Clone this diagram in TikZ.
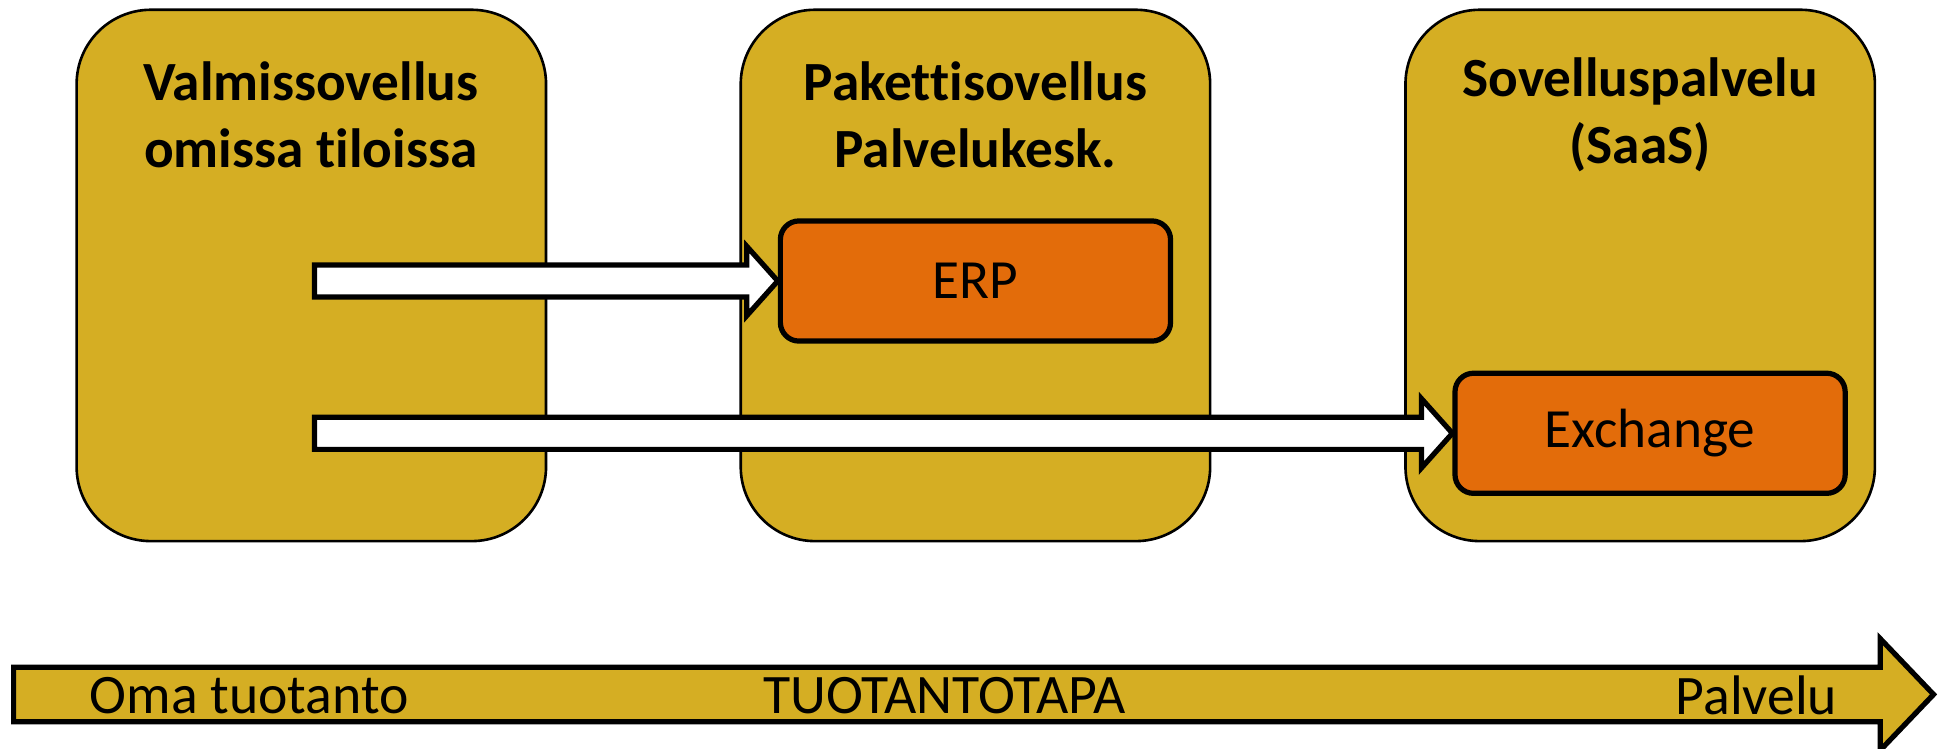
\documentclass[tikz,border=0pt]{standalone}
\usepackage{fontspec}
\setmainfont[Ligatures=NoCommon]{Carlito}
\usetikzlibrary{calc}
\definecolor{gold}{HTML}{D5AE23}
\definecolor{orng}{HTML}{E36C0A}
\tikzstyle{stage}=[rectangle,draw=black,line width=0.6pt,fill=gold,minimum width=3.79cm,minimum height=4.29cm,rounded corners=0.6cm,inner sep=0pt]
\tikzstyle{ttl}=[align=center,font=\bfseries\fontsize{12.7}{15.4}\selectfont]
\tikzstyle{app}=[rectangle,draw=black,line width=1.2pt,fill=orng,minimum width=3.15cm,minimum height=0.97cm,rounded corners=0.15cm,font=\fontsize{12.7}{15}\selectfont]
\tikzstyle{hollow}=[draw=black,fill=white,line width=1.2pt,line join=miter]
\tikzstyle{axis}=[draw=black,fill=gold,line width=1.2pt,line join=miter]
\tikzstyle{lbl}=[font=\fontsize{12.8}{15}\selectfont,inner sep=0pt]

\begin{document}
\begin{tikzpicture}[x=0.01cm,y=-0.01cm]
\useasboundingbox (0,0) rectangle (1568,605);
\node[stage] (own) at (251.5,222.5) {};
\node[stage] (pkg) at (788,222.5) {};
\node[stage] (saas) at (1325,222.5) {};
\node[ttl] (ownT) at (251,93) {Valmissovellus\\omissa tiloissa};
\node[ttl] (pkgT) at (788,93) {Pakettisovellus\\Palvelukesk.};
\node[ttl] (saasT) at (1325,93) {Sovelluspalvelu\\(SaaS)};
\node[app] (erp) at (788,227) {ERP};
\node[app] (exch) at (1333,350) {Exchange};
% siirrot
\coordinate (from1) at (254,227);
\coordinate (from2) at (254,350);
\draw[hollow] ($(from1)+(0,-13)$) -- ($(erp.west)+(-25,-13)$) -- ($(erp.west)+(-25,-28)$) -- (erp.west)
  -- ($(erp.west)+(-25,28)$) -- ($(erp.west)+(-25,13)$) -- ($(from1)+(0,13)$) -- cycle;
\draw[hollow] ($(from2)+(0,-13)$) -- ($(exch.west)+(-25,-13)$) -- ($(exch.west)+(-25,-28)$) -- (exch.west)
  -- ($(exch.west)+(-25,28)$) -- ($(exch.west)+(-25,13)$) -- ($(from2)+(0,13)$) -- cycle;
% tuotantotapa
\coordinate (start) at (11,561);
\coordinate (tip) at (1562,561);
\draw[axis] ($(start)+(0,-22)$) -- ($(tip)+(-43,-22)$) -- ($(tip)+(-43,-45)$) -- (tip)
  -- ($(tip)+(-43,45)$) -- ($(tip)+(-43,22)$) -- ($(start)+(0,22)$) -- cycle;
\node[lbl,anchor=west] (own2) at (72,562) {Oma tuotanto};
\node[lbl] (mode) at (763,562) {TUOTANTOTAPA};
\node[lbl,anchor=west] (svc) at (1353,562) {Palvelu};
\end{tikzpicture}
\end{document}
